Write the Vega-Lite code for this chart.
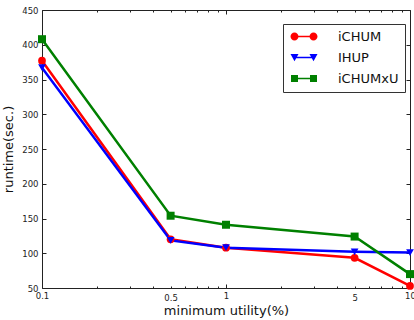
{
  "$schema": "https://vega.github.io/schema/vega-lite/v6.json",
  "width": 368,
  "height": 278,
  "autosize": "none",
  "padding": {"left": 42, "top": 10, "right": 4, "bottom": 32},
  "background": "white",
  "config": {
    "font": "DejaVu Sans",
    "view": {"stroke": "#222", "strokeWidth": 1},
    "axis": {"grid": false, "domain": false, "labelFont": "DejaVu Sans", "titleFont": "DejaVu Sans", "labelColor": "#222", "titleColor": "#111", "tickColor": "#222", "titleFontWeight": "normal", "labelFontSize": 8.5, "titleFontSize": 13},
    "legend": {"title": null, "orient": "none", "legendX": 241, "legendY": 14,
      "symbolSize": 100, "symbolOpacity": 1, "symbolStrokeWidth": 0,
      "labelFontSize": 13, "labelFont": "DejaVu Sans", "labelColor": "#111", "labelOffset": 36,
      "padding": 6, "rowPadding": 7, "strokeColor": "#333", "fillColor": "white", "cornerRadius": 0,
      "labelLimit": 200}
  },
  "data": {
    "values": [
      {"series": "iCHUM", "utility": 0.1, "runtime": 377},
      {"series": "iCHUM", "utility": 0.5, "runtime": 120},
      {"series": "iCHUM", "utility": 1, "runtime": 108},
      {"series": "iCHUM", "utility": 5, "runtime": 93.5},
      {"series": "iCHUM", "utility": 10, "runtime": 53},
      {"series": "IHUP", "utility": 0.1, "runtime": 367},
      {"series": "IHUP", "utility": 0.5, "runtime": 118.5},
      {"series": "IHUP", "utility": 1, "runtime": 108},
      {"series": "IHUP", "utility": 5, "runtime": 102},
      {"series": "IHUP", "utility": 10, "runtime": 101},
      {"series": "iCHUMxU", "utility": 0.1, "runtime": 408},
      {"series": "iCHUMxU", "utility": 0.5, "runtime": 154},
      {"series": "iCHUMxU", "utility": 1, "runtime": 141},
      {"series": "iCHUMxU", "utility": 5, "runtime": 124},
      {"series": "iCHUMxU", "utility": 10, "runtime": 70}
    ]
  },
  "layer": [
    {
      "mark": {"type": "point", "filled": true, "opacity": 0},
      "encoding": {
        "x": {"field": "utility", "type": "quantitative",
          "scale": {"type": "log", "domain": [0.1, 10], "nice": false},
          "axis": {"orient": "bottom", "title": "minimum utility(%)", "titlePadding": 3,
            "values": [0.1,0.2,0.3,0.4,0.5,0.6,0.7,0.8,0.9,1,2,3,4,5,6,7,8,9,10],
            "labelExpr": "indexof([0.1,0.5,1,5,10], datum.value) >= 0 ? toString(datum.value) : ''",
            "labelOverlap": false, "labelFlush": false, "labelPadding": 7,
            "tickSize": {"condition": {"test": "indexof([0.1,1,10], datum.value) >= 0", "value": -4}, "value": -2}}},
        "y": {"field": "runtime", "type": "quantitative",
          "scale": {"domain": [50, 450], "nice": false, "zero": false},
          "axis": {"orient": "left", "title": "runtime(sec.)", "values": [50,100,150,200,250,300,350,400,450], "tickSize": -4, "labelPadding": 8, "titlePadding": 6}},
        "color": {"field": "series", "type": "nominal",
          "scale": {"domain": ["iCHUM", "IHUP", "iCHUMxU"], "range": ["#ff0000", "#0000ff", "#008000"]},
          "legend": {"title": null}},
        "shape": {"field": "series", "type": "nominal",
          "scale": {"domain": ["iCHUM", "IHUP", "iCHUMxU"],
            "range": [
              "M-0.2,-0.15L3.6,-0.15L3.6,0.15L-0.2,0.15Z M0.6,0A0.8,0.8 0 1,1 -1,0A0.8,0.8 0 1,1 0.6,0Z M4.4,0A0.8,0.8 0 1,1 2.8,0A0.8,0.8 0 1,1 4.4,0Z",
              "M-0.2,-0.15L3.6,-0.15L3.6,0.15L-0.2,0.15Z M-1,-0.7L0.6,-0.7L-0.2,0.75Z M2.8,-0.7L4.4,-0.7L3.6,0.75Z",
              "M-0.2,-0.15L3.6,-0.15L3.6,0.15L-0.2,0.15Z M-0.9,-0.7L0.5,-0.7L0.5,0.7L-0.9,0.7Z M2.9,-0.7L4.3,-0.7L4.3,0.7L2.9,0.7Z"
            ]},
          "legend": {"title": null}
        }
      }
    },
    {
      "mark": {"type": "line", "strokeWidth": 2.5},
      "encoding": {
        "x": {"field": "utility", "type": "quantitative", "axis": null},
        "y": {"field": "runtime", "type": "quantitative", "axis": null},
        "color": {"field": "series", "type": "nominal"},
        "detail": {"field": "series"}
      }
    },
    {
      "transform": [{"filter": "datum.series == 'iCHUM'"}],
      "mark": {"type": "point", "filled": true, "opacity": 1, "size": 60, "shape": "circle"},
      "encoding": {
        "x": {"field": "utility", "type": "quantitative",
          "axis": {"orient": "top", "title": null, "labels": false,
            "values": [0.1,0.2,0.3,0.4,0.5,0.6,0.7,0.8,0.9,1,2,3,4,5,6,7,8,9,10],
            "tickSize": {"condition": {"test": "indexof([0.1,1,10], datum.value) >= 0", "value": -4}, "value": -2}}},
        "y": {"field": "runtime", "type": "quantitative",
          "axis": {"orient": "right", "title": null, "labels": false, "values": [50,100,150,200,250,300,350,400,450], "tickSize": -4}},
        "color": {"field": "series", "type": "nominal"}
      }
    },
    {
      "transform": [{"filter": "datum.series == 'IHUP'"}],
      "mark": {"type": "point", "filled": true, "opacity": 1, "size": 60, "shape": "triangle-down"},
      "encoding": {
        "x": {"field": "utility", "type": "quantitative", "axis": null},
        "y": {"field": "runtime", "type": "quantitative", "axis": null},
        "color": {"field": "series", "type": "nominal"}
      }
    },
    {
      "transform": [{"filter": "datum.series == 'iCHUMxU'"}],
      "mark": {"type": "point", "filled": true, "opacity": 1, "size": 64, "shape": "square"},
      "encoding": {
        "x": {"field": "utility", "type": "quantitative", "axis": null},
        "y": {"field": "runtime", "type": "quantitative", "axis": null},
        "color": {"field": "series", "type": "nominal"}
      }
    }
  ],
  "resolve": {"axis": {"x": "independent", "y": "independent"}}
}
